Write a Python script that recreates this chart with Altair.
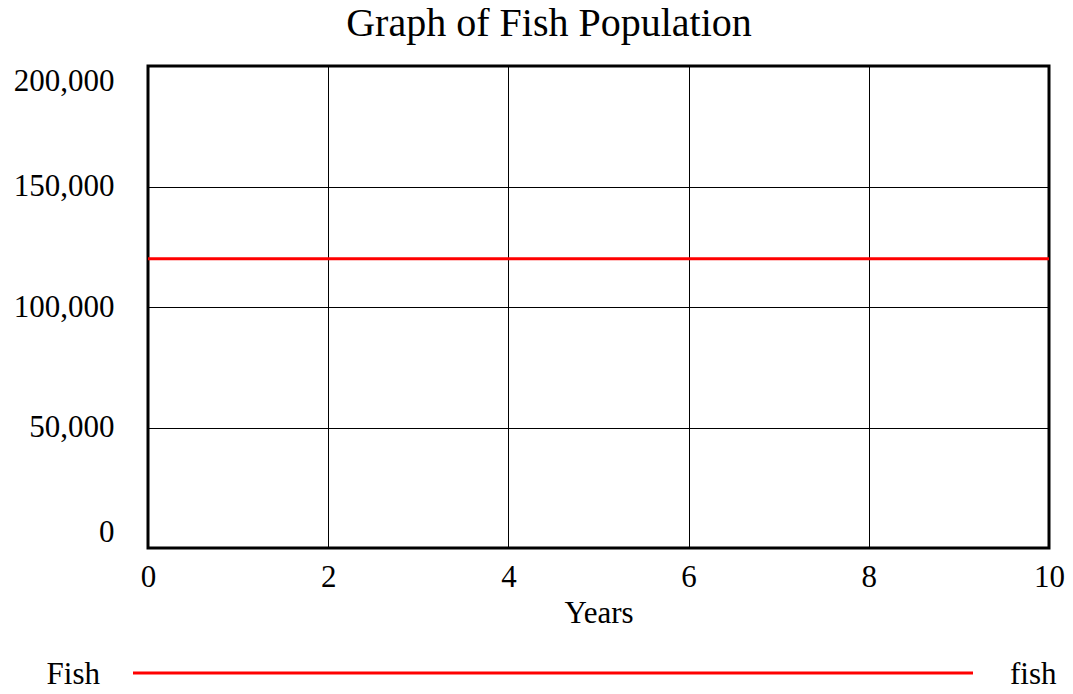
import altair as alt
import pandas as pd

# ---- data ----
years = [0, 1, 2, 3, 4, 5, 6, 7, 8, 9, 10]
fish = [120000, 120000, 120000, 120000, 120000, 120000,
        120000, 120000, 120000, 120000, 120000]
x_ticks = [0, 2, 4, 6, 8, 10]
y_ticks = [0, 50000, 100000, 150000, 200000]
series_name = ["Fish"]
series_unit = ["fish"]
chart_title = ["Graph of Fish Population"]
x_title = "Years"

FONT = "Liberation Serif"
RED = "#ff0000"

df = pd.DataFrame({"Years": years, "Fish": fish})
legend_df = pd.DataFrame({"name": series_name, "unit": series_unit,
                          "title": chart_title})

line = alt.Chart(df).mark_line(color=RED, strokeWidth=3).encode(
    x=alt.X("Years:Q",
            scale=alt.Scale(domain=[0, 10], nice=False, zero=False),
            axis=alt.Axis(values=x_ticks, title=x_title, labelPadding=14,
                          labelFlush=False, titlePadding=6)),
    y=alt.Y("Fish:Q",
            scale=alt.Scale(domain=[0, 200000], nice=False),
            axis=alt.Axis(values=y_ticks, format=",.0f", title=None,
                          labelFlush=True, labelPadding=34)),
)

title_mark = alt.Chart(legend_df).mark_text(
    align="center", baseline="alphabetic", font=FONT, fontSize=40, color="black"
).encode(x=alt.value(401), y=alt.value(-30), text="title:N")

leg_name = alt.Chart(legend_df).mark_text(
    align="right", baseline="alphabetic", font=FONT, fontSize=31, color="black"
).encode(x=alt.value(-48), y=alt.value(618), text="name:N")

leg_line = alt.Chart(legend_df).mark_rule(color=RED, strokeWidth=3).encode(
    x=alt.value(-15), x2=alt.value(825), y=alt.value(607)
)

leg_unit = alt.Chart(legend_df).mark_text(
    align="left", baseline="alphabetic", font=FONT, fontSize=31, color="black"
).encode(x=alt.value(862), y=alt.value(618), text="unit:N")

chart = alt.layer(line, leg_line, leg_name, leg_unit, title_mark).properties(
    width=901,
    height=482,
    autosize=alt.AutoSizeParams(type="none"),
    padding={"left": 140, "top": 58, "right": 16, "bottom": 138},
).configure_view(
    stroke="black", strokeWidth=3
).configure_axis(
    grid=True, gridColor="black", gridWidth=1, gridOpacity=1,
    domain=False, ticks=False, tickSize=0,
    labelFont=FONT, labelFontSize=31, labelColor="black",
    titleFont=FONT, titleFontSize=31, titleColor="black", titleFontWeight="normal",
)

chart.save("out.html", embed_options={"renderer": "svg", "actions": False})
